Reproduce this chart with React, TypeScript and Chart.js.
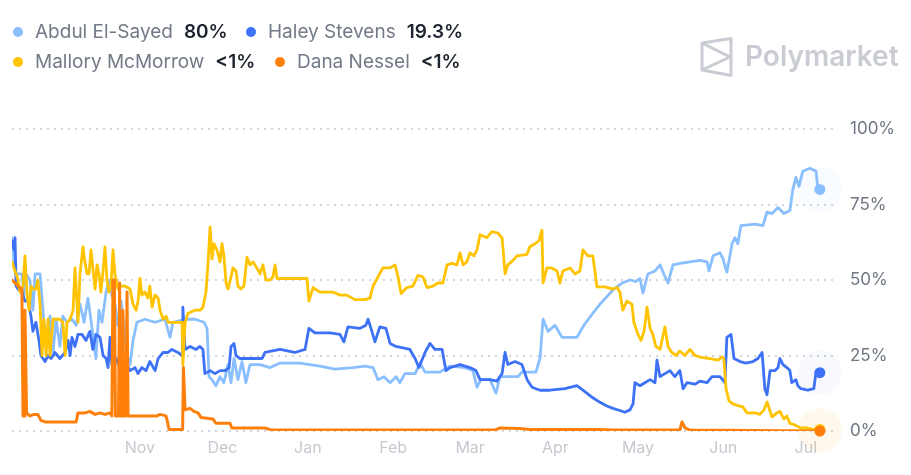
import React, { useEffect, useRef } from "react";
import { Chart, registerables } from "chart.js";

Chart.register(...registerables);

// ---- axis data ----
const monthTickDays = [46.5, 76.5, 107.5, 138.5, 166.5, 197.5, 227.5, 258.5, 288.5];
const monthTickLabels = ["Nov", "Dec", "Jan", "Feb", "Mar", "Apr", "May", "Jun", "Jul"];
const yTickValues = [0, 25, 50, 75, 100];

// ---- series meta ----
const seriesNames = ["Abdul El-Sayed", "Haley Stevens", "Mallory McMorrow", "Dana Nessel"];
const seriesColors = ["#8abfff", "#3d72f7", "#ffc300", "#ff7f0b"];
const seriesHalos = [
  "rgba(138,191,255,0.06)",
  "rgba(61,114,247,0.04)",
  "rgba(255,195,0,0.04)",
  "rgba(255,127,11,0.04)",
];
const legendValues = ["80%", "19.3%", "<1%", "<1%"];

// ---- series values: [day since mid-Sep, percent] ----
const abdulPoints = [
  [0, 64], [0.7, 56], [1.5, 52], [3.6, 52], [4.4, 45], [5.1, 52], [6.5, 50], [7.6, 40], [8.4, 52], [10.2, 52],
  [11.6, 36], [12.7, 30], [13.8, 38], [14.9, 26], [16, 37], [17.4, 28], [18.5, 38], [20, 36], [21.8, 37], [23.3, 35],
  [24.7, 42], [26.2, 36], [27.6, 44], [29.1, 34], [30.5, 24], [31.6, 40], [32.7, 36], [34.2, 46], [35.3, 50], [36.3, 45],
  [37.4, 42], [38.5, 35], [39.6, 43], [40.7, 35], [41.8, 25], [42.9, 22], [44, 30], [45.4, 36], [48.3, 37], [52, 36],
  [55.6, 37], [57.4, 31], [58.5, 36], [62.9, 37], [66.5, 37], [69.8, 36], [70.9, 34], [71.6, 18], [72.7, 17], [74.1, 15],
  [75.6, 18], [77, 16], [78.5, 22], [79.6, 16], [80.7, 24], [82.1, 17], [83.6, 23], [85, 16], [86.5, 22], [90.1, 22],
  [93.8, 21], [97.4, 22.5], [104.7, 22.5], [111.9, 21.5], [117.4, 20.5], [123.9, 21], [128.3, 21.5], [131.2, 21], [133, 17], [135.2, 18],
  [137.4, 16], [139.6, 18], [141, 16], [142.8, 19], [146.5, 19], [148.3, 22.5], [150.1, 19.5], [155.5, 19.5], [159.2, 21.5], [164.6, 21],
  [167.5, 20], [169, 14.5], [170.4, 17], [173.7, 17], [175.9, 12.5], [177.3, 18], [183.9, 18], [185.3, 19.5], [190.4, 19.5], [191.9, 24],
  [193, 37], [194.8, 33], [197.3, 35], [199.9, 31], [205.3, 31], [208.2, 35.5], [211.1, 39], [213.7, 42], [216.2, 44.5], [218.4, 46.7],
  [221.7, 49], [224.6, 50], [226.8, 49.5], [228.2, 50.5], [229.3, 45.7], [231.1, 52], [233.7, 53], [235.5, 55], [236.9, 52], [238.4, 49],
  [240.2, 55], [242.8, 55.5], [246.4, 56], [250, 56.5], [252.6, 56], [253.3, 53], [254.8, 58], [257.3, 59], [258.4, 57], [259.8, 52.6],
  [261.7, 62], [262.7, 64], [263.8, 62], [264.9, 68], [270, 68.5], [272.9, 68], [274.4, 72.5], [276.2, 72], [278.4, 74], [280.5, 72],
  [282.7, 73], [283.8, 80], [284.9, 84], [286, 81], [287.4, 86], [290, 87], [292.2, 86], [292.9, 80], [293.6, 80],
];

const haleyPoints = [
  [0, 63], [0.7, 60], [1.1, 64], [1.5, 48], [2.2, 47], [3.6, 46], [4.7, 43], [5.8, 43], [6.9, 38], [7.6, 33],
  [8.7, 36], [9.8, 30], [10.5, 25], [12, 23], [13.1, 25], [14.2, 24], [15.6, 26], [17.4, 24], [19.3, 26], [20.4, 30],
  [21.1, 25], [21.8, 31], [22.9, 28], [24, 32], [25.4, 32], [26.9, 30], [28.3, 33], [29.4, 27], [30.5, 32], [32, 31],
  [33.1, 25], [34.2, 24], [34.9, 21], [35.6, 31], [36.3, 22], [37.8, 24], [39.2, 21], [41.1, 23], [42.9, 20], [44.7, 21],
  [45.8, 19], [47.2, 21], [48.7, 20], [50.1, 23], [52, 20], [53.1, 24], [54.9, 26], [56.7, 26], [58.1, 27], [60.3, 26],
  [61.8, 25], [62.1, 41], [62.9, 27], [64.7, 28], [66.9, 27], [68.3, 28], [69.4, 27], [70.1, 19], [72, 20], [73.8, 19],
  [75.6, 20], [77.4, 20], [78.9, 21], [79.6, 28], [80.7, 29], [81.4, 25], [82.9, 24], [86.5, 24], [90.9, 24], [91.9, 26],
  [97.4, 27], [102.8, 26], [106.5, 27], [107.9, 34], [110.1, 32.5], [115.6, 32.5], [119.2, 32], [120.6, 29.5], [122.1, 34.5], [126.5, 34],
  [128.6, 35], [129.4, 37], [130.8, 33], [131.9, 29.5], [133.7, 34.5], [135.9, 34], [137.4, 29], [139.5, 28], [144.6, 27], [146.5, 24],
  [147.9, 21], [150.1, 26], [151.9, 29], [153.7, 27], [156.3, 27], [157.7, 20], [159.2, 21], [162.8, 22], [166.4, 21], [168.6, 20],
  [170.1, 17], [173.7, 17], [176.2, 16.5], [178.1, 19], [179.2, 26], [180.2, 22], [182.8, 23], [185.3, 22], [187.2, 17], [189, 14.5],
  [191.9, 13.5], [195.5, 13.5], [201, 14], [205.3, 15], [208.2, 13], [211.1, 11], [213.7, 9.5], [216.2, 8.3], [218.4, 7.5], [220.9, 6.8],
  [222.7, 6.2], [224.6, 7], [225.7, 9], [226.4, 16], [228.2, 15], [230, 16], [231.9, 17], [233.7, 16], [234.4, 23.5], [235.5, 18],
  [237.3, 19], [239.1, 20], [240.9, 18], [242.7, 20], [243.9, 14], [245.3, 16], [248.2, 15.5], [250, 16.5], [252.6, 16], [254.4, 18],
  [257.3, 18], [259.1, 16], [259.8, 31], [261.3, 32], [262.4, 24], [264.6, 23], [266.7, 22.5], [269.3, 23], [271.1, 24], [272.6, 26],
  [273.6, 14], [274.4, 12], [275.5, 20], [277.3, 20], [278.4, 21], [279.1, 24], [280.2, 22], [281.6, 21], [282.7, 20], [283.4, 16],
  [284.9, 17], [285.6, 15], [286.7, 14], [289.2, 13.5], [291.4, 14], [292.2, 19.5], [293.6, 19.3],
];

const malloryPoints = [
  [0, 56], [0.7, 54], [1.5, 52], [2.2, 50], [2.9, 46], [4, 48], [4.7, 58], [5.5, 45], [6.2, 40], [6.9, 48],
  [7.6, 47], [8.7, 47], [9.4, 50], [10.2, 42], [10.9, 25], [11.6, 37], [12.4, 25], [13.1, 37], [13.8, 25], [14.9, 37],
  [17.4, 37], [18.5, 36], [19.3, 25], [20, 36], [21.1, 37], [22.2, 40], [22.9, 54], [24, 36], [24.7, 52], [25.8, 61],
  [26.5, 56], [27.3, 52], [28, 52], [28.7, 60], [29.4, 54], [30.2, 47], [30.9, 55], [31.6, 52], [32.3, 46], [33.1, 53],
  [33.8, 61], [34.5, 50], [35.2, 46], [36, 48], [36.7, 60], [37.4, 52], [38.5, 47], [39.6, 48], [41.1, 48], [42.9, 47],
  [44, 42], [45.1, 40], [45.8, 43], [46.5, 50.5], [47.2, 45], [48.3, 46], [49.4, 44], [50.1, 48], [50.9, 41], [52, 45],
  [53.1, 44], [53.8, 40], [54.9, 37], [56, 38], [56.7, 36], [59.2, 36], [61.8, 36], [62.1, 22], [62.9, 36], [64, 39],
  [66.5, 40], [68.3, 40], [69.4, 41], [70.5, 46], [71.2, 55], [72, 67.5], [72.7, 57], [73.4, 62], [74.5, 60], [75.6, 56],
  [76.3, 62], [77, 58], [77.8, 49], [78.5, 47], [79.6, 51], [80.3, 54], [81.4, 53], [82.1, 48], [83.2, 47], [84.3, 48],
  [85.4, 57.5], [86.5, 55], [87.6, 56], [89, 54], [90.1, 52], [91.2, 55], [92.3, 50], [93.8, 50], [94.8, 51], [95.6, 55],
  [96.3, 50.5], [101, 50.5], [107.2, 50.5], [107.9, 43], [109.4, 47.5], [111.9, 46], [116.7, 46], [119.2, 45], [121.7, 45], [124.6, 43.5],
  [128.3, 43.5], [130.1, 44], [131.2, 48], [133, 51], [134.8, 54], [137.4, 54], [139.2, 55], [140.3, 51], [141.4, 45.5], [143.5, 47.5],
  [145.7, 48], [147.5, 51.5], [149.4, 51], [150.8, 47.5], [153, 48], [154.8, 49], [156.6, 49], [158.1, 55], [159.9, 55.5], [161.7, 55],
  [162.8, 59], [163.9, 55], [165.3, 56], [166.4, 59], [167.9, 58], [169, 60], [170.1, 65], [172.6, 64], [174.4, 66], [176.6, 65.5],
  [178.1, 64], [179.2, 52], [180.2, 55], [182.1, 56.5], [183.5, 58], [187.2, 58.5], [188.2, 61], [190.1, 62], [191.5, 63], [192.6, 66.5],
  [193, 49], [194.4, 54], [196.2, 54], [198.1, 53], [199.1, 49], [200.2, 53], [202.8, 54], [204.6, 52], [206.4, 53], [207.5, 60],
  [209.3, 58], [211.1, 58], [212.6, 47.7], [215.5, 47.7], [218.4, 47], [219.9, 47.5], [220.9, 46], [222, 40], [223.5, 43], [225.3, 42],
  [226, 36], [227.5, 32], [228.6, 30], [229.7, 33], [230.8, 41], [231.9, 34], [232.9, 32], [234, 28], [235.5, 27], [237.3, 34.5],
  [238.4, 28], [239.8, 26], [241.3, 25], [242.7, 26.5], [244.5, 25], [246.4, 27], [248.2, 25], [250, 24.5], [253.6, 24], [256.6, 23.5],
  [258, 24.5], [258.7, 24], [259.5, 14], [260.6, 10], [262, 9], [263.5, 8.5], [265.6, 8], [267.1, 6], [270, 6], [271.8, 5.5],
  [273.3, 7], [274.4, 9.6], [276.2, 4.7], [278, 6], [279.1, 6.5], [280.5, 4], [281.6, 5], [282.7, 2.5], [284.5, 2], [285.6, 1.5],
  [286.7, 1], [289.2, 1], [291.3, 0.5], [293.6, 0.5],
];

const danaPoints = [
  [0, 50], [1.1, 49], [2.2, 48], [3.6, 47], [4, 5], [4.4, 5], [4.7, 40], [5.3, 6], [6.5, 5], [8, 5.5],
  [9.4, 5.5], [10.5, 3.5], [12, 3], [17.4, 3], [23.3, 3], [24, 6], [26.5, 6], [28.3, 6.5], [30.2, 5.5], [32, 6],
  [33.8, 5.5], [35.6, 6], [36.3, 5], [36.7, 50], [37.2, 50], [37.6, 5], [38.7, 5], [39.1, 49], [39.4, 5], [40, 5],
  [40.3, 40], [40.7, 5], [41.4, 5], [41.8, 46], [42.2, 5], [48.3, 5], [52.7, 5], [53.8, 5.5], [56, 5], [57.1, 0.5],
  [62, 0.5], [62.3, 21], [62.9, 7], [64.7, 7.5], [66.1, 6.5], [67.6, 6], [68.7, 4.5], [73, 4], [74.1, 2.6], [79.2, 2.6],
  [79.9, 1], [91.9, 1], [94.5, 0.3], [159.2, 0.3], [175.5, 0.3], [177.3, 1], [184.6, 0.8], [188.2, 0.5], [213.7, 0.5], [218, 0.3],
  [242.7, 0.3], [243.5, 3], [244.6, 1], [246.4, 0.3], [293.6, 0],
];

const seriesPoints = [abdulPoints, haleyPoints, malloryPoints, danaPoints];
const drawOrder = [4, 3, 2, 1];

const FONT = "Inter, 'Noto Sans', sans-serif";

const endMarkers = {
  id: "endMarkers",
  beforeDatasetsDraw(chart: any) {
    const ctx = chart.ctx;
    chart.data.datasets.forEach((_ds: any, i: number) => {
      const meta = chart.getDatasetMeta(i);
      const pt = meta.data[meta.data.length - 1];
      if (!pt) return;
      ctx.save();
      ctx.beginPath();
      ctx.arc(pt.x, pt.y, 22, 0, Math.PI * 2);
      ctx.fillStyle = seriesHalos[i];
      ctx.fill();
      ctx.restore();
    });
  },
  afterDatasetsDraw(chart: any) {
    const ctx = chart.ctx;
    [2, 1, 0, 3].forEach((i) => {
      const meta = chart.getDatasetMeta(i);
      const pt = meta.data[meta.data.length - 1];
      if (!pt) return;
      ctx.save();
      ctx.beginPath();
      ctx.arc(pt.x, pt.y, 5.5, 0, Math.PI * 2);
      ctx.fillStyle = seriesColors[i];
      ctx.fill();
      ctx.restore();
    });
  },
};

function LegendItem({ left, top, idx }: { left: number; top: number; idx: number }) {
  return (
    <div
      style={{
        position: "absolute",
        left,
        top,
        display: "flex",
        alignItems: "center",
        height: 22,
        fontFamily: FONT,
        fontSize: 19,
        lineHeight: "22px",
        whiteSpace: "nowrap",
      }}
    >
      <span
        style={{
          display: "inline-block",
          width: 10,
          height: 10,
          borderRadius: 5,
          background: seriesColors[idx],
          marginRight: 12,
        }}
      />
      <span style={{ color: "#727a87", marginRight: 11 }}>{seriesNames[idx]}</span>
      <span style={{ color: "#1e2330", fontWeight: 600 }}>{legendValues[idx]}</span>
    </div>
  );
}

export default function App() {
  const canvasRef = useRef<HTMLCanvasElement | null>(null);

  useEffect(() => {
    if (!canvasRef.current) return;
    const chart = new Chart(canvasRef.current, {
      type: "line",
      data: {
        datasets: seriesPoints.map((pts, i) => ({
          label: seriesNames[i],
          data: pts.map((p) => ({ x: p[0], y: p[1] })),
          borderColor: seriesColors[i],
          backgroundColor: seriesColors[i],
          borderWidth: i === 3 ? 3 : 2.8,
          pointRadius: 0,
          tension: 0,
          borderJoinStyle: "round",
          borderCapStyle: "round",
          order: drawOrder[i],
        })),
      },
      options: {
        responsive: false,
        animation: false,
        events: [],
        layout: { padding: { left: 12, top: 129, right: 0, bottom: 0 } },
        plugins: { legend: { display: false }, tooltip: { enabled: false } },
        scales: {
          x: {
            type: "linear",
            min: 0,
            max: 299.1,
            grid: { display: false, drawTicks: false },
            border: { display: false },
            afterBuildTicks: (s: any) => {
              s.ticks = monthTickDays.map((v) => ({ value: v }));
            },
            afterFit: (s: any) => {
              s.height = 44;
            },
            ticks: {
              autoSkip: false,
              maxRotation: 0,
              padding: 8,
              color: "#c5c9d0",
              font: { family: FONT, size: 16 },
              callback: (_v: any, i: number) => monthTickLabels[i],
            },
          },
          y: {
            position: "right",
            min: 0,
            max: 100,
            afterBuildTicks: (s: any) => {
              s.ticks = yTickValues.map((v) => ({ value: v }));
            },
            afterFit: (s: any) => {
              s.width = 76;
            },
            grid: { color: "#d2d5da", lineWidth: 2, drawTicks: false },
            border: { display: false, dash: [2, 5] },
            ticks: {
              padding: 15,
              color: "#6f7784",
              font: { family: FONT, size: 17 },
              callback: (v: any) => v + "%",
            },
          },
        },
      } as any,
      plugins: [endMarkers],
    });
    return () => chart.destroy();
  }, []);

  return (
    <div
      style={{
        position: "fixed",
        left: 0,
        top: 0,
        width: 911,
        height: 475,
        background: "#ffffff",
        overflow: "hidden",
      }}
    >
      <canvas
        ref={canvasRef}
        width={911}
        height={475}
        style={{ position: "absolute", left: 0, top: 0, width: 911, height: 475 }}
      />
      <LegendItem left={13} top={21} idx={0} />
      <LegendItem left={246} top={21} idx={1} />
      <LegendItem left={13} top={51} idx={2} />
      <LegendItem left={275} top={51} idx={3} />
      <div style={{ position: "absolute", left: 700, top: 37 }}>
        <svg width="34" height="40" viewBox="0 0 34 40">
          <g fill="none" stroke="#c9ccd2" strokeWidth="3" strokeLinejoin="round">
            <path d="M2 6 L31 1.5 L31 38.5 L2 33 Z" />
            <path d="M2 6 L30 20 L2 33" />
          </g>
        </svg>
      </div>
      <div
        style={{
          position: "absolute",
          left: 745,
          top: 42,
          fontFamily: FONT,
          fontSize: 28,
          lineHeight: "28px",
          fontWeight: 600,
          color: "#c9ccd3",
          whiteSpace: "nowrap",
        }}
      >
        Polymarket
      </div>
    </div>
  );
}
